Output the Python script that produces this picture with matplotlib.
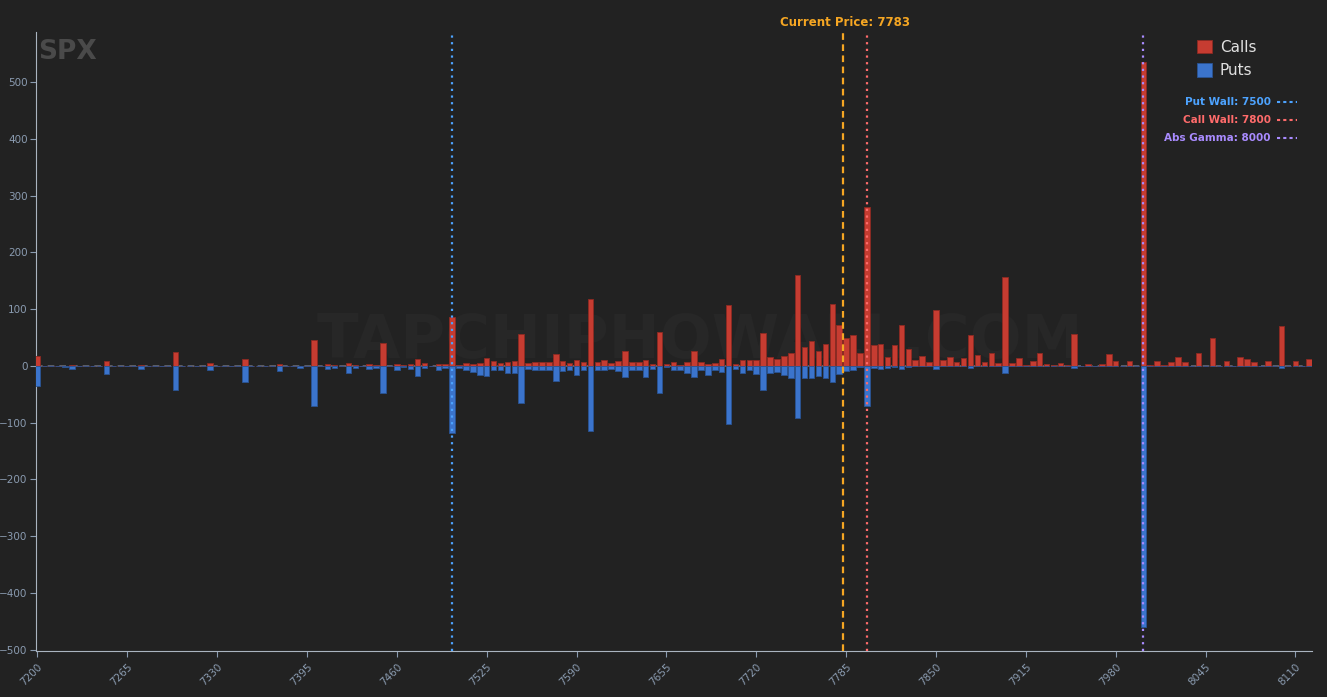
import numpy as np
import matplotlib.pyplot as plt

# strikes 7200..8120 step 5
strikes = np.arange(7200, 8125, 5)

calls = [18, 0, 0, 0, 0, 2, 0, 0, 0, 0,
         8, 0, 0, 0, 0, 2, 0, 0, 0, 0,
         24, 0, 0, 0, 0, 5, 0, 0, 0, 0,
         12, 0, 0, 0, 0, 3, 0, 0, 0, 0,
         45, 0, 3, 2, 0, 5, 2, 0, 3, 2,
         40, 0, 3, 2, 4, 13, 5, 0, 3, 3,
         87, 1, 6, 3, 5, 14, 8, 5, 7, 9,
         56, 5, 7, 7, 7, 21, 9, 5, 10, 7,
         117, 7, 11, 6, 9, 26, 7, 7, 10, 3,
         59, 3, 7, 2, 7, 26, 7, 4, 6, 12,
         107, 4, 11, 11, 11, 58, 16, 13, 18, 22,
         160, 33, 44, 26, 39, 109, 72, 50, 55, 23,
         280, 37, 39, 16, 36, 72, 30, 11, 18, 7,
         99, 11, 16, 7, 14, 54, 19, 7, 22, 6,
         156, 5, 14, 2, 9, 23, 4, 2, 6, 1,
         57, 0, 4, 0, 4, 21, 9, 0, 9, 0,
         535, 2, 9, 1, 7, 15, 7, 0, 22, 0,
         50, 0, 9, 0, 15, 13, 7, 0, 9, 0,
         70, 0, 9, 0, 12]

puts = [-35, 0, 0, 0, -2, -6, 0, 0, 0, 0,
        -15, 0, 0, 0, 0, -5, 0, 0, -1, 0,
        -42, 0, 0, 0, 0, -7, 0, 0, 0, 0,
        -28, 0, 0, 0, 0, -9, 0, 0, -4, 0,
        -70, 0, -5, -3, 0, -12, -3, 0, -6, -4,
        -48, 0, -7, -2, -5, -17, -3, 0, -8, -3,
        -118, -3, -8, -10, -16, -18, -8, -7, -12, -12,
        -65, -6, -8, -8, -7, -27, -9, -7, -16, -7,
        -114, -8, -7, -6, -9, -20, -8, -7, -19, -5,
        -47, -2, -8, -8, -12, -19, -8, -16, -8, -10,
        -103, -5, -13, -8, -14, -43, -13, -11, -16, -22,
        -92, -21, -22, -18, -21, -29, -15, -9, -7, -2,
        -70, -4, -5, -3, -2, -5, -2, 0, 0, 0,
        -6, 0, 0, 0, 0, -3, 0, 0, 0, 0,
        -12, 0, 0, 0, 0, 0, 0, 0, 0, 0,
        -3, 0, 0, 0, 0, 0, 0, 0, 0, 0,
        -459, 0, 0, 0, 0, 0, 0, 0, 0, 0,
        0, 0, 0, 0, 0, 0, 0, 0, 0, 0,
        -3, 0, 0, 0, 0]

current_price = 7783
put_wall = 7500
call_wall = 7800
abs_gamma = 8000

BG = "#222222"
RED = "#c63c31"
BLUE = "#3b74cc"

fig = plt.figure(figsize=(13.27, 6.97), dpi=100, facecolor=BG)
ax = fig.add_axes([36 / 1327, 1 - 651 / 697, 1276 / 1327, 619 / 697], facecolor=BG)

ax.bar(strikes, calls, width=4.0, color=RED, edgecolor="#8e2a22", linewidth=0.6, label="Calls", zorder=3)
ax.bar(strikes, puts, width=4.0, color=BLUE, edgecolor="#2a5494", linewidth=0.6, label="Puts", zorder=3)
ax.axhline(0, color="#666a75", lw=1.2, ls=(0, (4, 3)), zorder=2)

ax.axvline(put_wall, color="#4da3ff", lw=1.6, ls=(0, (1, 2)), zorder=4)
ax.axvline(call_wall, color="#ff6b6b", lw=1.6, ls=(0, (1, 2)), zorder=4)
ax.axvline(abs_gamma, color="#a98bff", lw=1.6, ls=(0, (1, 2)), zorder=4)
ax.axvline(current_price, color="#f5a623", lw=1.6, ls=(0, (3, 2)), zorder=4)
fig.text(845 / 1327, 1 - 22 / 697, f"Current Price: {current_price}", color="#f5a623",
         fontsize=8.5, fontweight="bold", ha="center", va="center")

ax.set_xlim(7199, 8122)
ax.set_ylim(-502, 588)
ax.set_xticks(np.arange(7200, 8111, 65))
ax.set_yticks(np.arange(-500, 501, 100))
ax.tick_params(axis="x", colors="#8a9bb0", labelsize=7.5, labelrotation=45, length=4)
ax.tick_params(axis="y", colors="#8a9bb0", labelsize=7.5, length=4, pad=2)
for lbl in ax.get_xticklabels():
    lbl.set_ha("right")
    lbl.set_rotation_mode("anchor")
for s in ["top", "right"]:
    ax.spines[s].set_visible(False)
ax.spines["left"].set_color("#aab4c0")
ax.spines["bottom"].set_color("#aab4c0")

fig.text(38 / 1327, 1 - 52 / 697, "SPX", color="#4a4a4a", fontsize=19,
         fontweight="bold", va="center")
ax.text(0.52, 0.5, "TAPCHIPHOWALL.COM", transform=ax.transAxes, color="#272727",
        fontsize=44, fontweight="bold", ha="center", va="center", zorder=1)

leg = ax.legend(loc="upper left", bbox_to_anchor=(1183 / 1327, 1 - 26 / 697),
                bbox_transform=fig.transFigure, frameon=False,
                fontsize=11, labelcolor="#e0e0e0", handlelength=1.0, handleheight=1.0,
                handletextpad=0.5, labelspacing=0.55)

wall_labels = [("Put Wall: 7500", "#4da3ff", 102), ("Call Wall: 7800", "#ff6b6b", 120),
               ("Abs Gamma: 8000", "#a98bff", 138)]
for txt, col, ypx in wall_labels:
    fig.text(1271 / 1327, 1 - ypx / 697, txt, color=col, fontsize=7.5, fontweight="bold",
             ha="right", va="center")
    fig.lines.append(plt.Line2D([1277 / 1327, 1297 / 1327], [1 - ypx / 697] * 2,
                                transform=fig.transFigure, color=col, lw=1.5, ls=(0, (1.5, 1.5))))

fig.savefig("out.png", dpi=100, facecolor=BG)
